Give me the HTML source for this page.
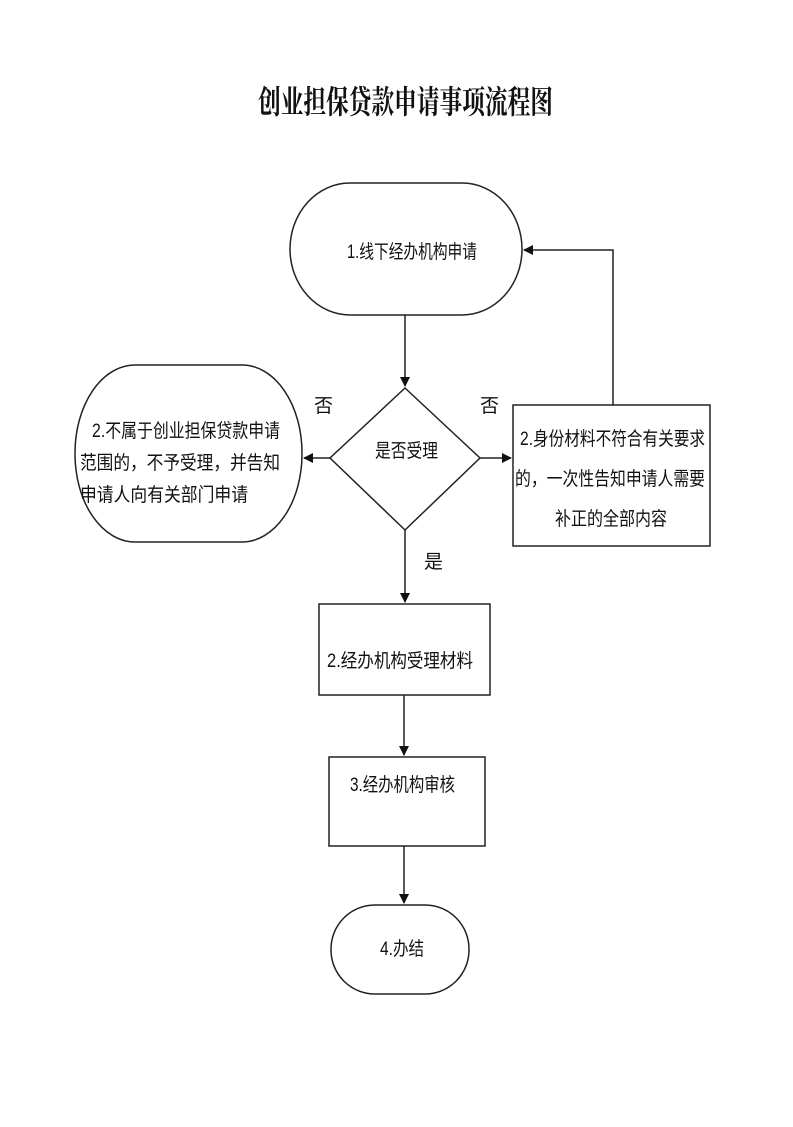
<!DOCTYPE html>
<html><head><meta charset="utf-8"><style>
body{margin:0;background:#fff;}
svg text{font-family:"Liberation Sans","Noto Sans CJK SC",sans-serif;fill:#111;}
</style></head><body>
<svg width="793" height="1122" viewBox="0 0 793 1122" xmlns="http://www.w3.org/2000/svg">
<defs><marker id="a" markerWidth="10" markerHeight="10" refX="9" refY="5" orient="auto" markerUnits="userSpaceOnUse"><path d="M0,0 L10,5 L0,10 z" fill="#111"/></marker></defs>
<text x="258" y="113" textLength="295" lengthAdjust="spacingAndGlyphs" style="font-family:'Noto Serif CJK SC',serif;font-size:32px;font-weight:bold">创业担保贷款申请事项流程图</text>
<g fill="none" stroke="#222" stroke-width="1.5">
<rect x="290" y="183" width="232" height="132" rx="60" ry="66"/>
<path d="M405,388 L480,458 L405,530 L330,458 Z"/>
<rect x="75" y="365" width="227" height="177" rx="60" ry="88"/>
<rect x="513" y="405" width="197" height="141"/>
<rect x="319" y="604" width="171" height="91"/>
<rect x="329" y="757" width="156" height="89"/>
<rect x="331" y="905" width="138" height="89" rx="44" ry="44"/>
<line x1="405" y1="315" x2="405" y2="386" marker-end="url(#a)"/>
<line x1="330" y1="458" x2="304" y2="458" marker-end="url(#a)"/>
<line x1="480" y1="458" x2="511" y2="458" marker-end="url(#a)"/>
<polyline points="613,405 613,250 524,250" marker-end="url(#a)"/>
<line x1="405" y1="530" x2="405" y2="602" marker-end="url(#a)"/>
<line x1="404" y1="695" x2="404" y2="755" marker-end="url(#a)"/>
<line x1="404" y1="846" x2="404" y2="903" marker-end="url(#a)"/>
</g>
<g font-size="19" lengthAdjust="spacingAndGlyphs">
<text x="347" y="258" textLength="130" lengthAdjust="spacingAndGlyphs">1.线下经办机构申请</text>
<text x="375" y="457" textLength="63" lengthAdjust="spacingAndGlyphs">是否受理</text>
<text x="314" y="412">否</text>
<text x="480" y="412">否</text>
<text x="424" y="568">是</text>
<text x="92" y="437" textLength="188" lengthAdjust="spacingAndGlyphs">2.不属于创业担保贷款申请</text>
<text x="80" y="469" textLength="200" lengthAdjust="spacingAndGlyphs">范围的，不予受理，并告知</text>
<text x="80" y="501" textLength="168" lengthAdjust="spacingAndGlyphs">申请人向有关部门申请</text>
<text x="520" y="445" textLength="185" lengthAdjust="spacingAndGlyphs">2.身份材料不符合有关要求</text>
<text x="515" y="485" textLength="190" lengthAdjust="spacingAndGlyphs">的，一次性告知申请人需要</text>
<text x="555" y="525" textLength="112" lengthAdjust="spacingAndGlyphs">补正的全部内容</text>
<text x="327" y="667" textLength="146" lengthAdjust="spacingAndGlyphs">2.经办机构受理材料</text>
<text x="350" y="791" textLength="105" lengthAdjust="spacingAndGlyphs">3.经办机构审核</text>
<text x="380" y="955" textLength="44" lengthAdjust="spacingAndGlyphs">4.办结</text>
</g>
</svg>
</body></html>
